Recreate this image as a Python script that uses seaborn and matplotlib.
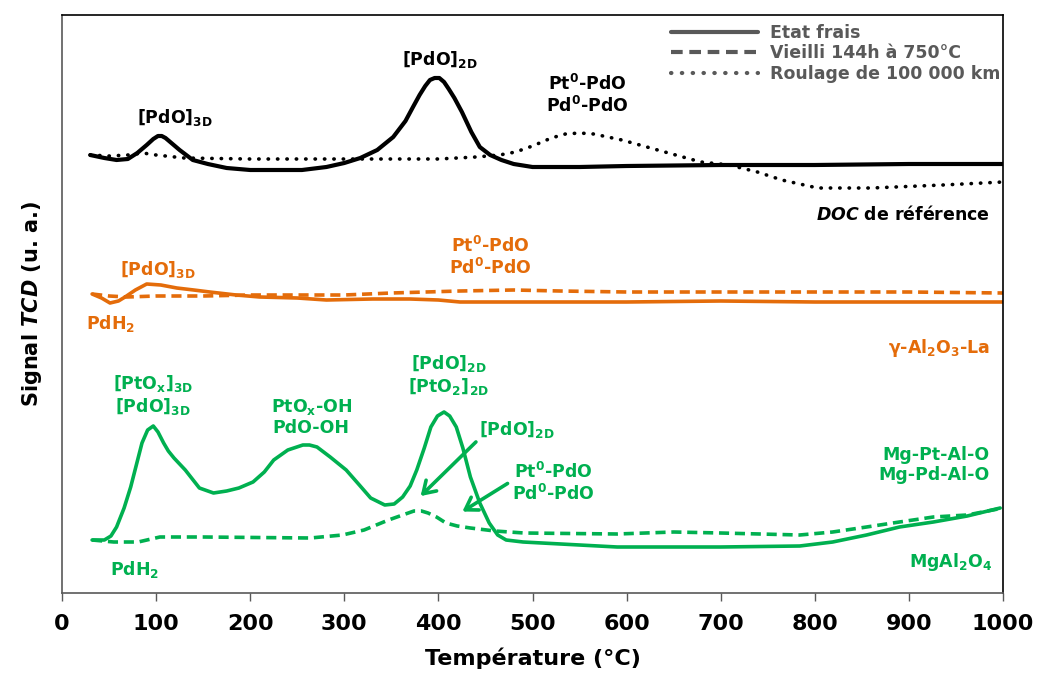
import numpy as np
import pandas as pd
import seaborn as sns
import matplotlib.pyplot as plt
from matplotlib.lines import Line2D

# valeurs (signal TCD en unités arbitraires)
doc_frais_x = [30, 45, 58, 70, 80, 90, 97, 102, 106, 110, 115, 125, 139, 155, 175, 200, 228, 255, 281, 300,
               317, 335, 352, 365, 373, 380, 386, 391, 396, 401, 406, 411, 417, 425, 435, 444, 455, 467, 480,
               500, 550, 600, 700, 800, 900, 1000]
doc_frais_y = [438, 435, 433, 434, 440, 448, 454, 457, 457, 455, 451, 443, 433, 429, 425, 423, 423, 423, 426,
               430, 435, 443, 456, 472, 486, 498, 507, 513, 515, 515, 511, 504, 495, 481, 461, 446, 438, 433,
               429, 426, 426, 427, 428, 428, 429, 429]

doc_roul_x = [30, 50, 70, 86, 100, 130, 200, 300, 400, 440, 465, 482, 500, 520, 535, 550, 565, 595, 633, 679,
              709, 739, 765, 803, 860, 936, 1000]
doc_roul_y = [438, 437, 438, 440, 438, 435, 434, 434, 434, 436, 438, 441, 447, 455, 459, 460, 459, 453, 443,
              431, 428, 421, 413, 405, 405, 408, 411]

al_frais_x = [32, 42, 51, 60, 67, 78, 90, 105, 122, 140, 157, 185, 210, 250, 281, 330, 370, 400, 423, 480,
              529, 600, 700, 800, 900, 1000]
al_frais_y = [299, 295, 290, 292, 296, 303, 309, 308, 305, 303, 301, 298, 296, 295, 293, 294, 294, 293, 291,
              291, 291, 291, 292, 291, 291, 291]

al_vieil_x = [32, 50, 69, 100, 150, 200, 300, 350, 423, 480, 529, 600, 700, 800, 900, 1000]
al_vieil_y = [299, 297, 296, 297, 297, 298, 298, 300, 302, 303, 302, 301, 301, 301, 301, 300]

mg_frais_x = [32, 45, 52, 58, 66, 73, 79, 85, 91, 97, 102, 108, 113, 119, 131, 146, 161, 175, 188, 203, 215,
              225, 240, 256, 263, 271, 285, 302, 316, 328, 343, 353, 362, 370, 377, 385, 392, 399, 406, 412,
              419, 426, 434, 444, 454, 463, 472, 490, 510, 590, 700, 784, 819, 855, 890, 926, 962, 997]
mg_frais_y = [53, 53, 57, 66, 85, 106, 128, 150, 163, 167, 161, 150, 142, 135, 123, 105, 100, 102, 105, 111,
              121, 133, 143, 148, 148, 146, 136, 123, 108, 95, 88, 89, 96, 107, 123, 145, 166, 177, 181, 177,
              166, 145, 116, 90, 70, 58, 53, 51, 50, 46, 46, 47, 51, 58, 66, 71, 77, 85]

mg_vieil_x = [32, 55, 81, 104, 150, 264, 298, 321, 347, 365, 374, 382, 389, 398, 408, 420, 434, 460, 491,
              590, 650, 700, 784, 819, 855, 890, 926, 962, 1000]
mg_vieil_y = [53, 51, 51, 56, 56, 55, 58, 63, 73, 79, 82, 82, 80, 76, 70, 67, 65, 62, 60, 59, 61, 60, 58, 61,
              66, 71, 76, 78, 85]

legend_labels = ["Etat frais", "Vieilli 144h à 750°C", "Roulage de 100 000 km"]

NOIR = "black"
ORANGE = "#E46C0A"
VERT = "#00B050"
GRIS = "#595959"

sns.set_theme(style="ticks")
plt.rcParams['font.family'] = ['DejaVu Sans']
plt.rcParams['mathtext.fontset'] = 'dejavusans'
plt.rcParams['mathtext.default'] = 'bf'

fig = plt.figure(figsize=(10.38, 6.75), dpi=100)
ax = fig.add_axes([62 / 1038, 82 / 675, 941 / 1038, 578 / 675])

lw = 2.6
dash = (0, (2.8, 1.6))
dot = (0, (0.1, 2.5))

sns.lineplot(x=doc_frais_x, y=doc_frais_y, ax=ax, color=NOIR, lw=3.0, sort=False)
sns.lineplot(x=doc_roul_x, y=doc_roul_y, ax=ax, color=NOIR, lw=lw, linestyle=dot,
             dash_capstyle='round', sort=False)
sns.lineplot(x=al_frais_x, y=al_frais_y, ax=ax, color=ORANGE, lw=lw, sort=False)
sns.lineplot(x=al_vieil_x, y=al_vieil_y, ax=ax, color=ORANGE, lw=lw, linestyle=dash, sort=False)
sns.lineplot(x=mg_frais_x, y=mg_frais_y, ax=ax, color=VERT, lw=lw, sort=False)
sns.lineplot(x=mg_vieil_x, y=mg_vieil_y, ax=ax, color=VERT, lw=lw, linestyle=dash, sort=False)

ax.set_xlim(0, 1000)
ax.set_ylim(0, 578)
ax.set_xticks(range(0, 1001, 100))
ax.set_yticks([])
ax.tick_params(axis='x', direction='out', length=6, width=1, color=GRIS, pad=9, labelsize=16,
               labelcolor='black')
for lab in ax.get_xticklabels():
    lab.set_fontweight('bold')
for s in ax.spines.values():
    s.set_visible(True)
    s.set_linewidth(1.2)
    s.set_color('black')
ax.spines['bottom'].set_color(GRIS)
ax.spines['left'].set_color(GRIS)

ax.set_xlabel("Température (°C)", fontsize=16, fontweight='bold', labelpad=10, color='black')
ax.set_ylabel(r"Signal $\mathbfit{TCD}$ (u. a.)", fontsize=15, fontweight='bold', labelpad=13,
              color='black')

fs = 12.5
def lab(x, y, txt, color, ha='center'):
    ax.text(x, y, txt, color=color, fontsize=fs, fontweight='bold', ha=ha, va='center',
            linespacing=1.15)

# DOC de référence
lab(120, 475, "[PdO]$_{3D}$", NOIR)
lab(402, 533, "[PdO]$_{2D}$", NOIR)
lab(558, 498, "Pt$^0$-PdO\nPd$^0$-PdO", NOIR)
lab(986, 379, r"$\mathbfit{DOC}$ de référence", NOIR, ha='right')

# gamma-Al2O3-La
lab(102, 323, "[PdO]$_{3D}$", ORANGE)
lab(52, 270, "PdH$_2$", ORANGE)
lab(455, 336, "Pt$^0$-PdO\nPd$^0$-PdO", ORANGE)
lab(986, 245, "γ-Al$_2$O$_3$-La", ORANGE, ha='right')

# MgAl2O4
lab(97, 198, "[PtO$_x$]$_{3D}$\n[PdO]$_{3D}$", VERT)
lab(265, 176, "PtO$_x$-OH\nPdO-OH", VERT)
lab(411, 218, "[PdO]$_{2D}$\n[PtO$_2$]$_{2D}$", VERT)
lab(484, 163, "[PdO]$_{2D}$", VERT)
lab(522, 110, "Pt$^0$-PdO\nPd$^0$-PdO", VERT)
lab(986, 128, "Mg-Pt-Al-O\nMg-Pd-Al-O", VERT, ha='right')
lab(988, 31, "MgAl$_2$O$_4$", VERT, ha='right')
lab(77, 24, "PdH$_2$", VERT)

arrow = dict(arrowstyle='->,head_length=0.7,head_width=0.45', color=VERT, lw=2.6)
ax.annotate("", xy=(379, 95), xytext=(442, 153), arrowprops=arrow)
ax.annotate("", xy=(423, 80), xytext=(476, 111), arrowprops=arrow)

handles = [Line2D([], [], color=GRIS, lw=3.0),
           Line2D([], [], color=GRIS, lw=3.0, linestyle=dash),
           Line2D([], [], color=GRIS, lw=3.0, linestyle=dot, dash_capstyle='round')]
leg = ax.legend(handles, legend_labels, loc='upper right', bbox_to_anchor=(0.997, 0.985),
                frameon=False, fontsize=fs, handlelength=5.0, handletextpad=0.7,
                labelspacing=0.15, borderpad=0, borderaxespad=0)
for t in leg.get_texts():
    t.set_color(GRIS)
    t.set_fontweight('bold')

fig.savefig("out.png", dpi=100)
